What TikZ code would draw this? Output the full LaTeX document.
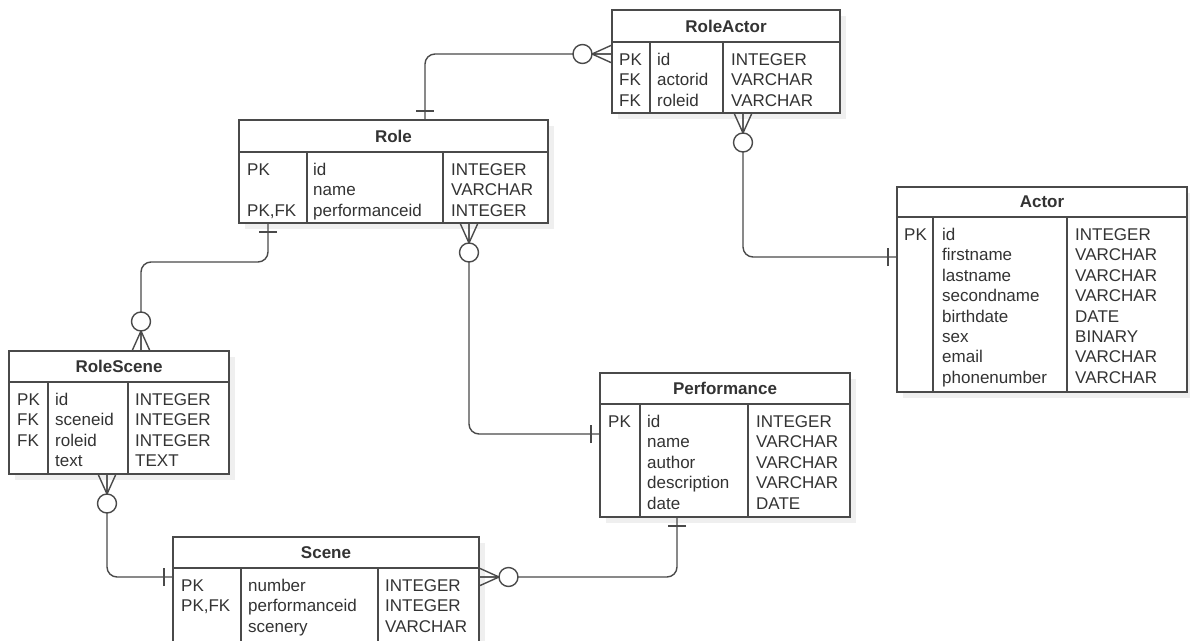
\documentclass[tikz,border=0pt]{standalone}
\usepackage{fontspec}
\setmainfont{Liberation Sans}
\definecolor{Ink}{HTML}{333333}
\definecolor{Edge}{HTML}{4A4A4A}
\definecolor{Shade}{HTML}{EFEFEF}

\tikzset{
  tablebox/.style={draw=Edge,line width=1.4pt,fill=white,inner sep=0pt,outer sep=0pt},
  rule/.style={draw=Edge,line width=1.4pt},
  conn/.style={draw=Edge,line width=1.4pt},
  celltext/.style={anchor=base west,inner sep=0pt,text=Ink,font=\fontsize{17}{20.4}\selectfont},
  titletext/.style={inner sep=0pt,text=Ink,font=\fontsize{17}{20.4}\selectfont\bfseries},
  pics/one/.style={code={\draw[conn] (9,-9) -- (9,9);}},
  pics/many/.style={code={
    \draw[conn] (0,-9) -- (20,0) -- (0,9) (0,0) -- (20,0);
    \draw[conn,fill=white] (29.5,0) circle (9.5pt);}},
}

% table frame: name, left, top, right, bottom, header line, divider 1, divider 2, title
\newcommand{\ertable}[9]{%
  \fill[Shade] (#2+6,#3+6) rectangle (#4+6,#5+6);
  \node[tablebox,minimum width={(#4-#2)*1pt},minimum height={(#5-#3)*1pt}] (#1) at ({(#2+#4)/2},{(#3+#5)/2}) {};
  \draw[rule] (#2,#6) -- (#4,#6) (#7,#6) -- (#7,#5) (#8,#6) -- (#8,#5);
  \node[titletext] (#1-title) at ({(#2+#4)/2},{(#3+#6)/2}) {#9};
}
% one column of cells: name prefix, x, first baseline, entries
\newcommand{\ercol}[4]{%
  \foreach \t [count=\i] in {#4}
    \node[celltext] (#1\i) at (#2,{#3+20.4*(\i-1)}) {\t};
}

\begin{document}
\begin{tikzpicture}[x=1pt,y=-1pt]
  \fill[white] (0,0) rectangle (1190,640);
  \useasboundingbox (0,0) rectangle (1190,640);

  % tables
  \ertable{roleactor}{612}{10}{840}{113}{42}{650}{723}{RoleActor}
  \ercol{roleactor-k}{619}{65.5}{PK,FK,FK}
  \ercol{roleactor-f}{657}{65.5}{id,actorid,roleid}
  \ercol{roleactor-t}{731}{65.5}{INTEGER,VARCHAR,VARCHAR}

  \ertable{role}{239}{120}{548}{223}{152}{307}{443}{Role}
  \node[celltext] (role-k1) at (247,175.5) {PK};
  \node[celltext] (role-k3) at (247,216.3) {PK,FK};
  \ercol{role-f}{313}{175.5}{id,name,performanceid}
  \ercol{role-t}{451}{175.5}{INTEGER,VARCHAR,INTEGER}

  \ertable{actor}{897}{187}{1187}{392}{217}{933}{1067}{Actor}
  \ercol{actor-k}{904}{240.5}{PK}
  \ercol{actor-f}{942}{240.5}{id,firstname,lastname,secondname,birthdate,sex,email,phonenumber}
  \ercol{actor-t}{1075}{240.5}{INTEGER,VARCHAR,VARCHAR,VARCHAR,DATE,BINARY,VARCHAR,VARCHAR}

  \ertable{rolescene}{9}{351}{229}{474}{382}{48}{128}{RoleScene}
  \ercol{rolescene-k}{17}{405.5}{PK,FK,FK}
  \ercol{rolescene-f}{55}{405.5}{id,sceneid,roleid,text}
  \ercol{rolescene-t}{135}{405.5}{INTEGER,INTEGER,INTEGER,TEXT}

  \ertable{performance}{600}{373}{850}{517}{404}{640}{748}{Performance}
  \ercol{performance-k}{608}{427.5}{PK}
  \ercol{performance-f}{647}{427.5}{id,name,author,description,date}
  \ercol{performance-t}{756}{427.5}{INTEGER,VARCHAR,VARCHAR,VARCHAR,DATE}

  \ertable{scene}{173}{537}{479}{642}{568}{241}{378}{Scene}
  \ercol{scene-k}{181}{591.5}{PK,{PK,FK}}
  \ercol{scene-f}{248}{591.5}{number,performanceid,scenery}
  \ercol{scene-t}{385}{591.5}{INTEGER,INTEGER,VARCHAR}

  % attachment points
  \coordinate (ro-a) at ([xshift=186pt]role.north west);
  \coordinate (ro-b) at ([xshift=29pt]role.south west);
  \coordinate (ro-c) at ([xshift=230pt]role.south west);
  \coordinate (ra-a) at ([yshift=-44pt]roleactor.north west);
  \coordinate (ra-b) at ([xshift=131pt]roleactor.south west);
  \coordinate (ac-a) at ([yshift=-70pt]actor.north west);
  \coordinate (rs-a) at ([xshift=132pt]rolescene.north west);
  \coordinate (rs-b) at ([xshift=98pt]rolescene.south west);
  \coordinate (pf-a) at ([yshift=-61pt]performance.north west);
  \coordinate (pf-b) at ([xshift=77pt]performance.south west);
  \coordinate (sc-a) at ([yshift=-40pt]scene.north west);
  \coordinate (sc-b) at ([yshift=-40pt]scene.north east);

  % relations
  \draw[conn,rounded corners=10pt] (ro-a) |- (ra-a);
  \draw[conn,rounded corners=10pt] (ra-b) |- (ac-a);
  \draw[conn,rounded corners=10pt] (ro-b) -- ++(0,39) -| (rs-a);
  \draw[conn,rounded corners=10pt] (ro-c) |- (pf-a);
  \draw[conn,rounded corners=10pt] (rs-b) |- (sc-a);
  \draw[conn,rounded corners=10pt] (sc-b) -| (pf-b);

  \pic[rotate=90] at (ro-a) {one};
  \pic[rotate=180] at (ra-a) {many};
  \pic[rotate=-90] at (ra-b) {many};
  \pic[rotate=180] at (ac-a) {one};
  \pic[rotate=-90] at (ro-b) {one};
  \pic[rotate=90] at (rs-a) {many};
  \pic[rotate=-90] at (ro-c) {many};
  \pic[rotate=180] at (pf-a) {one};
  \pic[rotate=-90] at (rs-b) {many};
  \pic[rotate=180] at (sc-a) {one};
  \pic at (sc-b) {many};
  \pic[rotate=-90] at (pf-b) {one};
\end{tikzpicture}
\end{document}
